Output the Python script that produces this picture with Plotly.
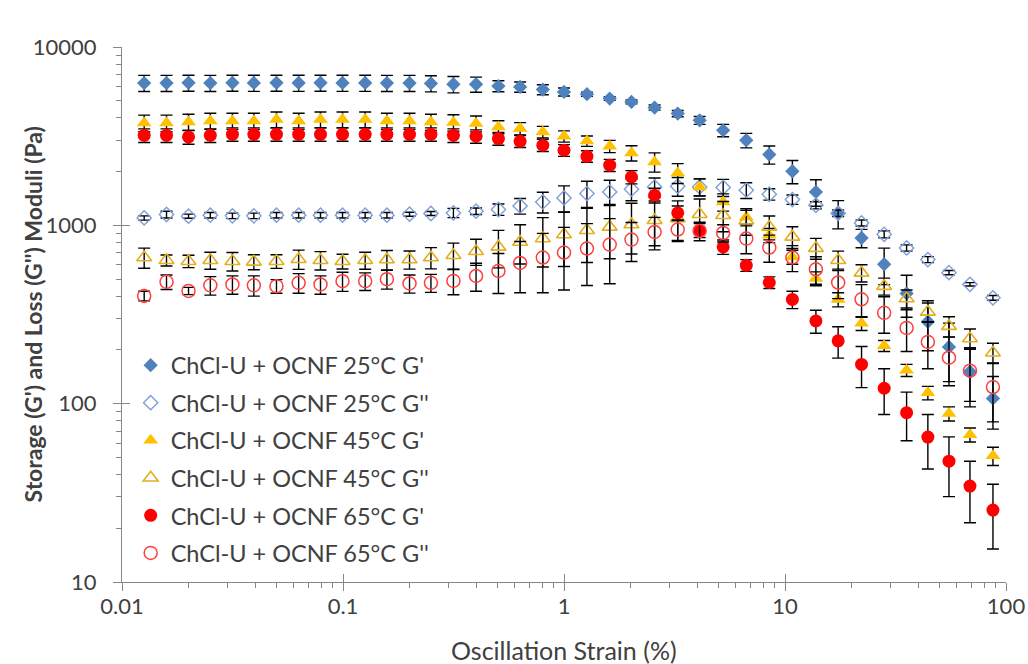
import plotly.graph_objects as go

strain = [0.0126, 0.0159, 0.0200, 0.0251, 0.0316, 0.0395, 0.0500, 0.0630, 0.0791, 0.0995,
          0.126, 0.158, 0.200, 0.250, 0.316, 0.400, 0.505, 0.633, 0.802, 1.00,
          1.27, 1.61, 2.02, 2.57, 3.27, 4.11, 5.25, 6.68, 8.49, 10.8,
          13.8, 17.4, 22.2, 28.1, 35.5, 44.3, 55.2, 68.7, 87.3]

g1_25 = [6280, 6280, 6300, 6280, 6300, 6290, 6300, 6290, 6300, 6290, 6290, 6280, 6280, 6250,
         6180, 6180, 6040, 5970, 5770, 5600, 5435, 5140, 4920, 4575, 4235, 3880, 3410,
         3000, 2495, 2010, 1540, 1165, 849, 605, 415, 288, 208, 151, 107]
e1_25 = [650] * 14 + [650, 600, 430, 390, 370, 290, 150, 120, 120, 150, 170, 200, 270,
                      280, 290, 300, 260, 210, 100, 140, 110, 90, 75, 55, 35]

g2_25 = [1100, 1150, 1125, 1140, 1130, 1130, 1140, 1140, 1140, 1140, 1140, 1140, 1155, 1165,
         1174, 1200, 1227, 1285, 1352, 1425, 1508, 1540, 1594, 1642, 1656, 1642, 1630,
         1574, 1494, 1395, 1296, 1170, 1031, 891, 747, 643, 543, 467, 392]
e2_25 = [30, 50, 30, 40, 40, 40, 40, 40, 40, 40, 40, 40, 30, 30,
         70, 50, 90, 130, 180, 240, 260, 250, 220, 200, 200, 180, 180,
         160, 110, 85, 60, 50, 40, 40, 30, 25, 15, 10, 12]

g1_45 = [3750, 3750, 3800, 3850, 3850, 3850, 3920, 3850, 3920, 3920, 3920, 3850, 3850, 3800,
         3767, 3722, 3562, 3488, 3338, 3158, 2972, 2776, 2546, 2267, 1967, 1641, 1352,
         1114, 880, 665, 503, 384, 282, 211, 154, 115, 88, 67, 51]
e1_45 = [400] * 14 + [400, 380, 300, 280, 250, 230, 200, 220, 250, 280, 250, 180, 150,
                      100, 80, 60, 45, 35, 25, 15, 12, 10, 8, 6, 6]

g2_45 = [660, 637, 629, 637, 629, 624, 629, 646, 637, 629, 637, 643, 643, 660,
         680, 716, 757, 807, 844, 888, 939, 980, 1010, 1068, 1092, 1154, 1140,
         1060, 979, 861, 745, 637, 541, 456, 389, 327, 272, 232, 193]
e2_45 = [85, 45, 50, 70, 75, 60, 55, 80, 75, 60, 70, 80, 75, 90,
         115, 120, 180, 200, 260, 300, 320, 330, 320, 300, 280, 250, 220,
         180, 150, 120, 100, 80, 60, 50, 45, 40, 35, 30, 25]

g1_65 = [3195, 3195, 3130, 3195, 3240, 3240, 3240, 3240, 3240, 3240, 3240, 3240, 3240, 3240,
         3195, 3158, 3065, 2960, 2812, 2636, 2439, 2173, 1867, 1475, 1174, 939, 757,
         597, 478, 384, 291, 225, 166, 122, 89, 65, 47.6, 34.5, 25.3]
e1_65 = [280] * 14 + [280, 270, 250, 230, 220, 200, 180, 170, 160, 140, 110, 85, 70,
                      45, 36, 43, 43, 45, 43, 35, 27, 22, 17.5, 13, 10]

g2_65 = [402, 482, 429, 461, 466, 461, 456, 476, 466, 486, 486, 499, 472, 476,
         488, 520, 555, 615, 660, 704, 741, 780, 832, 918, 947, 930, 907,
         843, 751, 660, 567, 478, 385, 323, 266, 222, 181, 153, 124]
e2_65 = [25, 45, 20, 55, 55, 60, 40, 60, 55, 60, 55, 60, 55, 55,
         80, 93, 140, 196, 241, 270, 281, 310, 205, 190, 125, 110, 100,
         150, 130, 110, 100, 90, 80, 75, 70, 65, 55, 50, 45]

names = ["ChCl-U + OCNF 25°C G'", "ChCl-U + OCNF 25°C G''",
         "ChCl-U + OCNF 45°C G'", "ChCl-U + OCNF 45°C G''",
         "ChCl-U + OCNF 65°C G'", "ChCl-U + OCNF 65°C G''"]

x_ticks = [0.01, 0.1, 1, 10, 100]
x_labels = ["0.01", "0.1", "1", "10", "100"]
y_ticks = [10, 100, 1000, 10000]
y_labels = ["10", "100", "1000", "10000"]

x_title = "Oscillation Strain (%)"
y_title = "Storage (G') and Loss (G'') Moduli (Pa)"

series = [
    (g1_25, e1_25, dict(symbol="diamond", size=11, color="#4F81BD", line=dict(width=0))),
    (g2_25, e2_25, dict(symbol="diamond-open", size=11, color="#7F9FDA", line=dict(width=1.4))),
    (g1_45, e1_45, dict(symbol="triangle-up", size=13, color="#FFC000", line=dict(width=0))),
    (g2_45, e2_45, dict(symbol="triangle-up-open", size=13, color="#E3AE1F", line=dict(width=1.6))),
    (g1_65, e1_65, dict(symbol="circle", size=13, color="#FF0000", line=dict(width=0))),
    (g2_65, e2_65, dict(symbol="circle-open", size=13, color="#FF4040", line=dict(width=1.5))),
]

fig = go.Figure()
for i, (vals, errs, mk) in enumerate(series):
    fig.add_trace(go.Scatter(
        x=strain, y=vals, mode="markers", name=names[i], marker=mk,
        legendgroup=f"g{i}",
        error_y=dict(type="data", array=errs, visible=True, color="#000000",
                     thickness=1.4, width=6),
    ))

minor_x = [m * 10 ** k for k in range(-2, 2) for m in range(2, 10)]
minor_y = [m * 10 ** k for k in range(1, 4) for m in range(2, 10)]

axis_col = "#868686"
txt_col = "#404040"
font_fam = "Lato, Carlito, 'Open Sans', sans-serif"

fig.update_layout(
    width=1028, height=664,
    margin=dict(l=122, r=22, t=47, b=82, autoexpand=False),
    plot_bgcolor="white", paper_bgcolor="white",
    font=dict(family=font_fam, color=txt_col, size=22),
    showlegend=True,
    legend=dict(x=0.0098, y=0.446, xanchor="left", yanchor="top",
                font=dict(size=23.5, color=txt_col), bgcolor="rgba(0,0,0,0)",
                tracegroupgap=4, itemsizing="trace"),
    xaxis=dict(type="log", range=[-2, 2], showline=True, linecolor=axis_col, linewidth=1.3,
               ticks="outside", ticklen=8, tickwidth=1.3, tickcolor=axis_col,
               tickvals=x_ticks, ticktext=x_labels, tickfont=dict(size=22, color=txt_col),
               minor=dict(tickvals=minor_x, ticks="outside", ticklen=5, tickwidth=1.2,
                          tickcolor=axis_col, showgrid=False),
               showgrid=False, zeroline=False, ticklabelstandoff=-4, automargin=False,
               ticklabeloverflow="allow"),
    yaxis=dict(type="log", range=[1, 4], showline=True, linecolor=axis_col, linewidth=1.3,
               ticks="outside", ticklen=8, tickwidth=1.3, tickcolor=axis_col,
               tickvals=y_ticks, ticktext=y_labels, tickfont=dict(size=22, color=txt_col),
               minor=dict(tickvals=minor_y, ticks="outside", ticklen=5, tickwidth=1.2,
                          tickcolor=axis_col, showgrid=False),
               showgrid=False, zeroline=False, ticklabelstandoff=12, automargin=False,
               ticklabeloverflow="allow"),
    xaxis2=dict(type="log", range=[-2, 2], overlaying="x", anchor="y", side="bottom",
                ticks="inside", ticklen=8, tickwidth=1.3, tickcolor=axis_col,
                tickvals=x_ticks, showticklabels=False, showgrid=False, zeroline=False,
                showline=False, automargin=False),
    yaxis2=dict(type="log", range=[1, 4], overlaying="y", anchor="x", side="left",
                ticks="inside", ticklen=8, tickwidth=1.3, tickcolor=axis_col,
                tickvals=y_ticks, showticklabels=False, showgrid=False, zeroline=False,
                showline=False, automargin=False),
    annotations=[
        dict(text="<b>" + y_title + "</b>", textangle=-90, xref="paper", yref="paper",
             x=-0.1007, y=0.5, xanchor="center", yanchor="middle", showarrow=False,
             font=dict(size=23, color="#404040", family=font_fam)),
        dict(text=x_title, xref="paper", yref="paper", x=0.5, y=-0.127,
             xanchor="center", yanchor="middle", showarrow=False,
             font=dict(size=25, color=txt_col, family=font_fam)),
    ],
)
fig.add_trace(go.Scatter(x=[], y=[], xaxis="x2", yaxis="y2", showlegend=False, hoverinfo="skip"))

fig.write_html("out.html", config={"displayModeBar": False},
               post_script="document.body.style.margin='0';document.body.style.overflow='hidden';")
